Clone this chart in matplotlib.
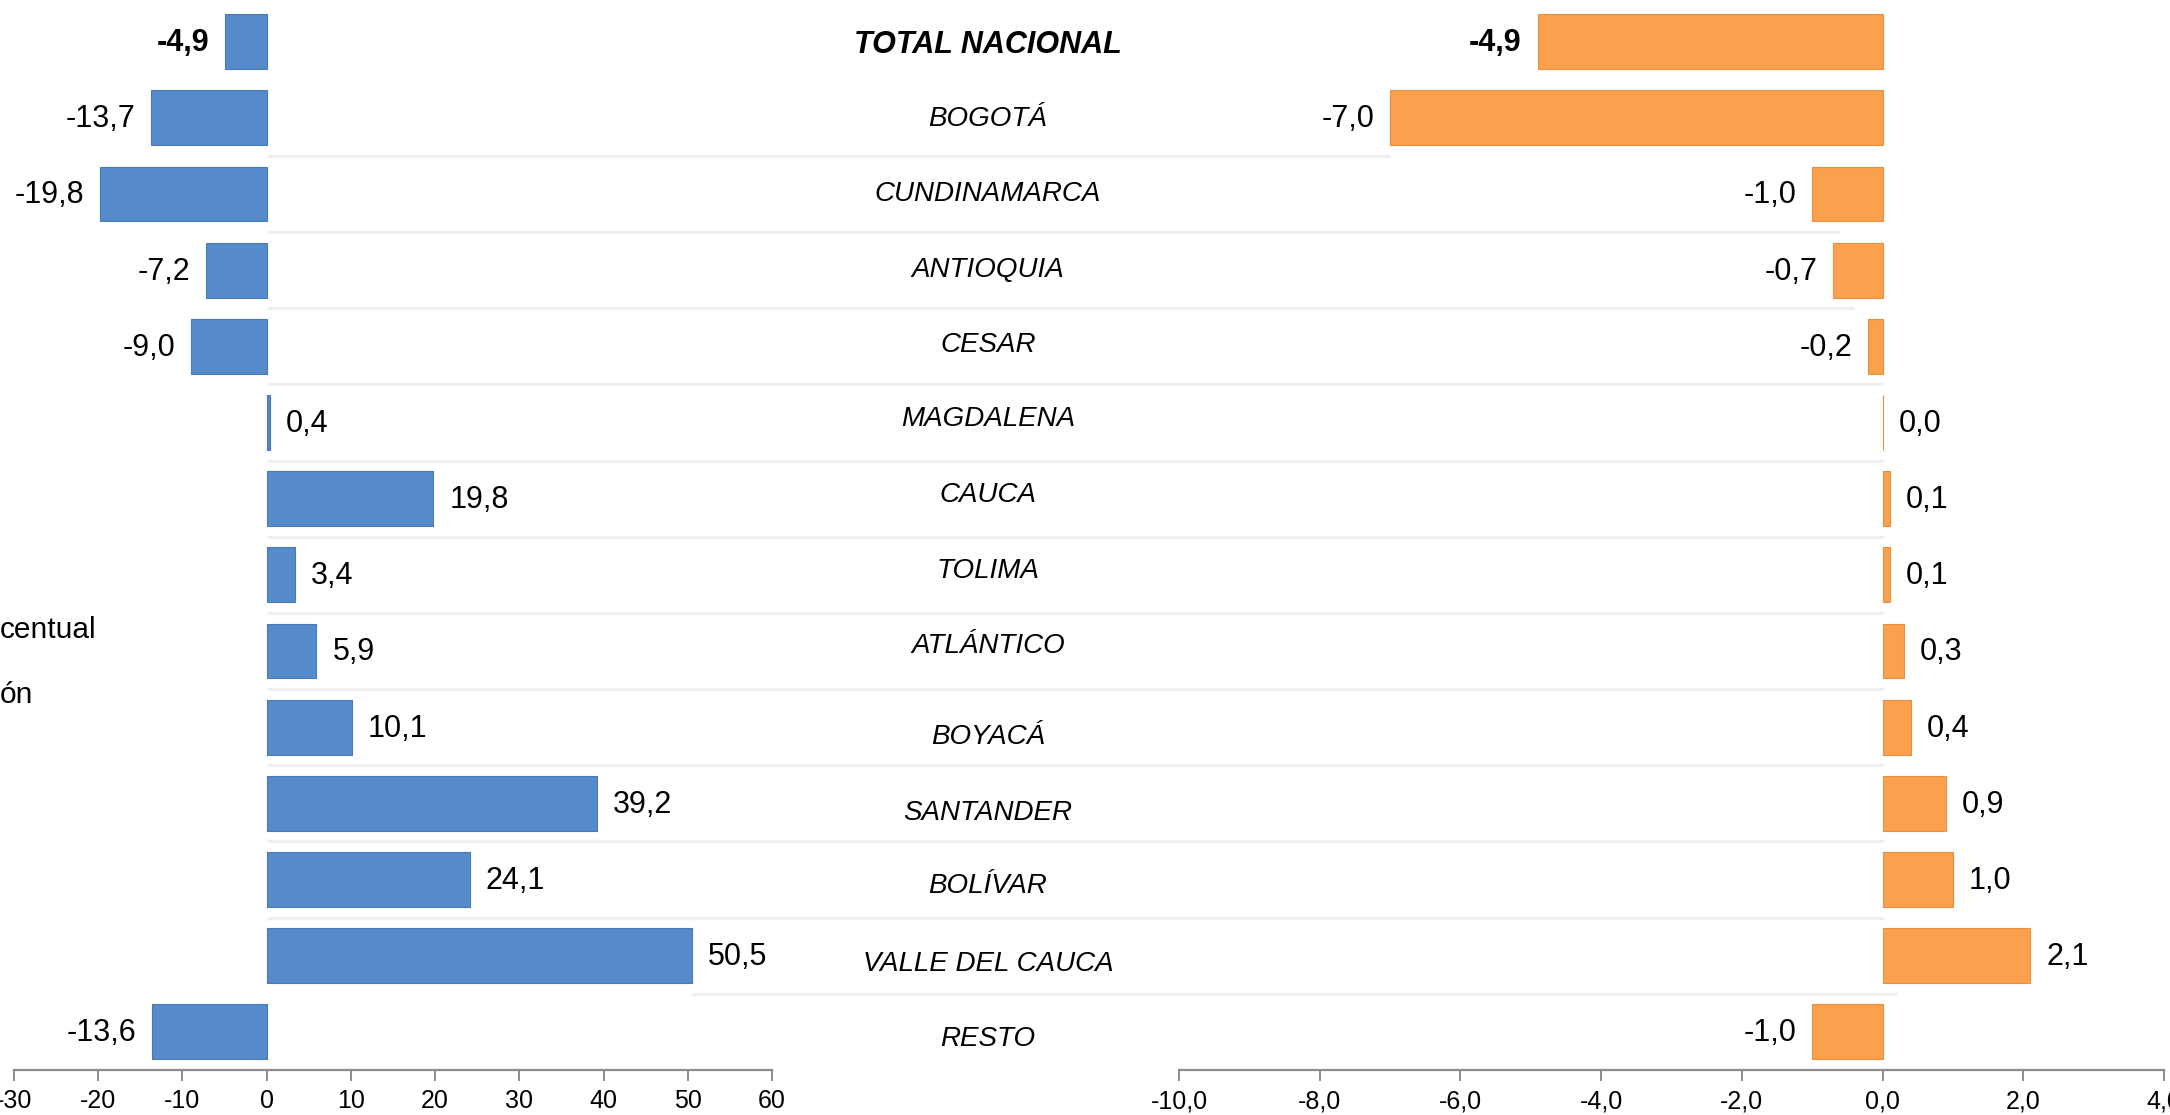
import matplotlib
matplotlib.use("Agg")
import matplotlib.pyplot as plt

regions = ["TOTAL NACIONAL", "BOGOTÁ", "CUNDINAMARCA", "ANTIOQUIA", "CESAR",
           "MAGDALENA", "CAUCA", "TOLIMA", "ATLÁNTICO", "BOYACÁ", "SANTANDER",
           "BOLÍVAR", "VALLE DEL CAUCA", "RESTO"]
variacion = [-4.9, -13.7, -19.8, -7.2, -9.0, 0.4, 19.8, 3.4, 5.9, 10.1, 39.2, 24.1, 50.5, -13.6]
contribucion = [-4.9, -7.0, -1.0, -0.7, -0.2, 0.0, 0.1, 0.1, 0.3, 0.4, 0.9, 1.0, 2.1, -1.0]

left_ticks = [-30, -20, -10, 0, 10, 20, 30, 40, 50, 60]
right_ticks = [-10, -8, -6, -4, -2, 0, 2, 4]

FONT = ["Liberation Sans", "DejaVu Sans"]
BLUE = "#568BCB"
ORANGE = "#FBA14D"
GRID = "#EFEFEF"

W, H = 2170, 1115
fig = plt.figure(figsize=(W / 100, H / 100), dpi=100)
fig.patch.set_facecolor("white")

bottom = 45 / H
height = 1066.5 / H
ax_l = fig.add_axes([14 / W, bottom, 758 / W, height])
ax_r = fig.add_axes([1179 / W, bottom, 985 / W, height])
ax_bg = fig.add_axes([0, bottom, 1, height], zorder=-1)

n = len(regions)
rows = list(range(n))

for ax in (ax_l, ax_r, ax_bg):
    ax.set_ylim(n - 0.5, -0.5)
    ax.set_facecolor("none")
    for s in ("top", "right", "left"):
        ax.spines[s].set_visible(False)
    ax.tick_params(axis="y", left=False, labelleft=False)

ax_l.set_xlim(-30, 60)
ax_r.set_xlim(-10, 4)
ax_bg.set_xlim(0, 1)
ax_bg.axis("off")

ax_l.barh(rows, variacion, height=0.72, color=BLUE, edgecolor="#4A79B3", linewidth=0.8)
ax_r.barh(rows, contribucion, height=0.72, color=ORANGE, edgecolor="#E8903F", linewidth=0.8)

def fmt(v, dec=1):
    return f"{v:.{dec}f}".replace(".", ",")

for ax, vals in ((ax_l, variacion), (ax_r, contribucion)):
    for i, v in enumerate(vals):
        off = -11.5 if v < 0 else 11.5
        ax.annotate(fmt(v), (v, i), xytext=(off, -1), textcoords="offset points",
                    ha="right" if v < 0 else "left", va="center",
                    fontsize=22, family=FONT,
                    fontweight="bold" if i == 0 else "normal", color="black")

for ax, ticks, dec in ((ax_l, left_ticks, 0), (ax_r, right_ticks, 1)):
    ax.set_xticks(ticks)
    ax.set_xticklabels([fmt(t, dec) for t in ticks], family=FONT, fontsize=18)
    ax.spines["bottom"].set_color("#8C8C8C")
    ax.spines["bottom"].set_linewidth(1.6)
    ax.tick_params(axis="x", direction="out", length=8, width=1.4,
                   color="#8C8C8C", pad=6, labelcolor="black")

# light separators between rows, running from the left zero to the right zero
to_fig = fig.transFigure.inverted()
def fig_x(ax, x):
    return to_fig.transform(ax.transData.transform((x, 0)))[0]

sep_start = [0, 0, 0, 0, 0, 0, 0, 0, 0, 0, 0, 50.5]
sep_end = [-7.0, -0.6, -0.4, 0, 0, 0, 0, 0, 0, 0, 0, 0.2]
for k in range(n - 2):
    y = k + 1.5
    ax_bg.plot([fig_x(ax_l, sep_start[k]), fig_x(ax_r, sep_end[k])], [y, y],
               color=GRID, linewidth=2.4, solid_capstyle="butt")

# region names in the middle
label_dy = [0.05, 0.02, 0, 0, -0.02, -0.05, -0.05, -0.05, -0.07, 0.13, 0.13, 0.09, 0.11, 0.09]
for i, name in enumerate(regions):
    ax_bg.text(988 / W, i + label_dy[i], name, ha="center", va="center",
               fontsize=22 if i == 0 else 20, family=FONT, style="italic",
               fontweight="bold" if i == 0 else "normal", color="black")

# clipped fragments of a side text box
fig.text(0, 1 - 630 / H, "centual", ha="left", va="center", fontsize=21.5, family=FONT)
fig.text(0, 1 - 695 / H, "ón", ha="left", va="center", fontsize=21.5, family=FONT)

fig.savefig("out.png", dpi=100, facecolor="white")
